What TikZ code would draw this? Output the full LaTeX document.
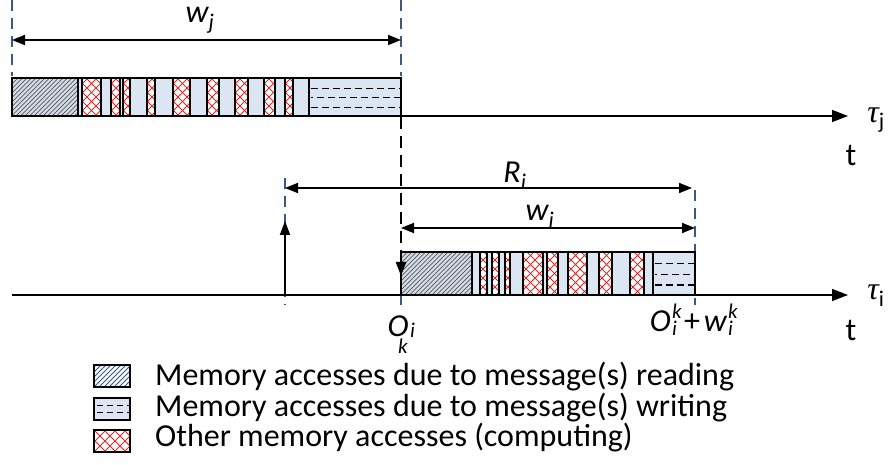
\documentclass[tikz,border=0pt]{standalone}
\usepackage{fontspec}
\setmainfont{Carlito}
\newfontfamily\greekfont{Liberation Serif}
\usetikzlibrary{arrows.meta}
\definecolor{segblue}{HTML}{DCE6F2}
\definecolor{readfill}{HTML}{D3DAE5}
\definecolor{hatchc}{HTML}{3A3A3A}
\definecolor{xred}{HTML}{E02828}
\definecolor{guide}{HTML}{3B5A80}
\definecolor{legblue}{HTML}{2F5597}
\newcommand\subsc[1]{\textsubscript{#1}}
\newcommand\segB[4]{\fill[segblue] (#1,#3) rectangle (#2,#4);\draw[segedge] (#1,#3) rectangle (#2,#4);}
\newcommand\segX[4]{\begin{scope}\clip (#1,#3) rectangle (#2,#4);
  \fill[white] (#1,#3) rectangle (#2,#4);
  \foreach \k in {-50,-41,...,40}{\draw[xline] (#1+\k,#4) -- ++(50,-50); \draw[xline] (#1+\k,#3) -- ++(50,50);}
  \end{scope}\draw[segedge] (#1,#3) rectangle (#2,#4);}
\newcommand\segR[4]{\begin{scope}\clip (#1,#3) rectangle (#2,#4);
  \fill[readfill] (#1,#3) rectangle (#2,#4);
  \foreach \k in {-50,-45.5,...,100}{\draw[hline] (#1+\k,#4) -- ++(50,-50);}
  \end{scope}\draw[segedge] (#1,#3) rectangle (#2,#4);}
\newcommand\segW[4]{\fill[segblue] (#1,#3) rectangle (#2,#4);
  \begin{scope}\clip (#1,#3) rectangle (#2,#4);
  \draw[wline] (#1+2,{#3+0.27*(#4-#3)}) -- (#2,{#3+0.27*(#4-#3)});
  \draw[wline,dash phase=5pt] (#1+2,{#3+0.52*(#4-#3)}) -- (#2,{#3+0.52*(#4-#3)});
  \draw[wline] (#1+2,{#3+0.77*(#4-#3)}) -- (#2,{#3+0.77*(#4-#3)});
  \end{scope}\draw[segedge] (#1,#3) rectangle (#2,#4);}
\begin{document}
\begin{tikzpicture}[x=1pt,y=-1pt,
  segedge/.style={black,line width=1.3pt},
  xline/.style={xred,line width=0.9pt},
  hline/.style={hatchc,line width=0.7pt},
  wline/.style={black,line width=1.4pt,dash pattern=on 7pt off 4pt},
  baredge/.style={black,line width=2.6pt},
  axis/.style={black,line width=1.5pt,-{Triangle[length=16pt,width=12pt]}},
  dim/.style={black,line width=1.8pt,{Triangle[length=13pt,width=10pt]}-{Triangle[length=13pt,width=10pt]}},
  guideline/.style={guide,line width=1.3pt,dash pattern=on 11pt off 7pt},
  lbl/.style={inner sep=0pt,font=\fontsize{32}{36}\selectfont},
  tight/.style={text height=20pt,text depth=0pt},
  scr/.style={inner sep=0pt,text height=10pt,text depth=0pt,font=\fontsize{21}{22}\selectfont\itshape},
  legtext/.style={inner sep=0pt,anchor=west,font=\fontsize{32}{36}\selectfont}]
\useasboundingbox (0,0) rectangle (892,465);
% coordinates
\coordinate (jL) at (12,116);
\coordinate (jAx) at (848,116);
\coordinate (iL) at (12,295);
\coordinate (iAx) at (848,295);
\coordinate (rel) at (285,295);
% guide lines
\coordinate (gj1t) at (12,0); \coordinate (gj1b) at (12,76);
\coordinate (gj2t) at (401,0); \coordinate (gj2b) at (401,76);
\coordinate (gRt) at (285,178); \coordinate (gRb) at (285,305);
\coordinate (gEt) at (695,190); \coordinate (gEb) at (695,305);
\coordinate (gSt) at (401,295); \coordinate (gSb) at (401,305);
\draw[guideline] (gj1t) -- (gj1b);
\draw[guideline] (gj2t) -- (gj2b);
\draw[guideline] (gRt) -- (gRb);
\draw[guideline] (gEt) -- (gEb);
\draw[guide,line width=1.3pt] (gSt) -- (gSb);
% axes
\draw[axis] (jL) -- (jAx);
\draw[axis] (iL) -- (iAx);
% top bar
\foreach \a/\b/\t in {12/78/R,78/82/B,82/101/X,101/111/B,111/120/X,120/123/B,123/130/X,130/147/B,147/155/X,155/173/B,173/190/X,190/207/B,207/219/X,219/235/B,235/248/X,248/264/B,264/275/X,275/285/B,285/293/X,293/309/B,309/401/W}{\csname seg\t\endcsname{\a}{\b}{78}{116}}
\draw[baredge] (12,78) rectangle (401,116);
% bottom bar
\foreach \a/\b/\t in {401/472/R,472/480/B,480/487/X,487/492/B,492/499/X,499/505/B,505/510/X,510/523/B,523/543/X,543/547/B,547/558/X,558/568/B,568/587/X,587/599/B,599/612/X,612/630/B,630/644/X,644/653/B,653/695/W}{\csname seg\t\endcsname{\a}{\b}{252}{295}}
\draw[baredge] (401,252) rectangle (695,295);
% dependency dashed arrow
\coordinate (depTop) at (401,117);
\coordinate (depBot) at (401,276);
\draw[black,line width=2.2pt,dash pattern=on 12pt off 7pt,-{Triangle[length=14pt,width=10pt]}] (depTop) -- (depBot);
% release arrow
\coordinate (relTip) at (285,221);
\draw[black,line width=1.8pt,-{Triangle[length=14pt,width=10pt]}] (rel) -- (relTip);
% dimension arrows
\coordinate (wjA) at (12,40); \coordinate (wjB) at (401,40);
\draw[dim] (wjA) -- (wjB);
\coordinate (RA) at (285,188); \coordinate (RB) at (692,188);
\draw[dim] (RA) -- (RB);
\coordinate (wiA) at (401,228); \coordinate (wiB) at (695,228);
\draw[dim] (wiA) -- (wiB);
% labels
\node[lbl] (lwj) at (200,20) {\itshape w\subsc{j}};
\node[lbl] (lRi) at (515,176) {\itshape R\subsc{i}};
\node[lbl] (lwi) at (540,216) {\itshape w\subsc{i}};
\node[lbl] (ltj) at (876,120) {{\greekfont\itshape τ}\subsc{j}};
\node[lbl] (lti) at (876,296) {{\greekfont\itshape τ}\subsc{i}};
\node[lbl] (ltj2) at (851,156) {t};
\node[lbl] (lti2) at (851,330) {t};
\node[lbl,tight,anchor=south] (lO) at (398,337) {\itshape O};
\node[scr,anchor=south west] (lOi) at (410,338) {i};
\node[scr,anchor=north] (lOk) at (403,343) {k};
\node[lbl,tight,anchor=south east] (lO2) at (671,332) {\itshape O};
\node[scr,anchor=south west] (lOk2) at (672,319) {k};
\node[scr,anchor=north west] (lOi2) at (672,325) {i};
\node[lbl] (lplus) at (692,323) {+};
\node[lbl,tight,anchor=south east] (lw2) at (727,332) {\itshape w};
\node[scr,anchor=south west] (lwk2) at (728,319) {k};
\node[scr,anchor=north west] (lwi2) at (728,325) {i};
% legend
\node[draw=black,line width=1.6pt,minimum width=36pt,minimum height=22pt,inner sep=0pt,
  path picture={\foreach \k in {-30,-25,...,40}{\draw[legblue,line width=0.8pt] ([xshift=\k pt]path picture bounding box.south west) -- ++(30,-30);}}] (leg1) at (112,376) {};
\node[draw=black,fill=segblue,line width=1.6pt,minimum width=36pt,minimum height=22pt,inner sep=0pt,
  path picture={\draw[black,line width=1pt,dash pattern=on 6pt off 4pt] ([xshift=3pt,yshift=-7pt]path picture bounding box.north west) -- ++(34,0); \draw[black,line width=1pt,dash pattern=on 6pt off 4pt] ([xshift=3pt,yshift=-14pt]path picture bounding box.north west) -- ++(34,0);}] (leg2) at (112,409) {};
\node[draw=black,fill=white,line width=1.6pt,minimum width=36pt,minimum height=22pt,inner sep=0pt,
  path picture={\foreach \k in {-30,-20,...,40}{\draw[xred,line width=0.8pt] ([xshift=\k pt]path picture bounding box.south west) -- ++(30,-30);\draw[xred,line width=0.8pt] ([xshift=\k pt]path picture bounding box.north west) -- ++(30,30);}}] (leg3) at (112,441) {};
\node[legtext] (t1) at (155,377) {Memory accesses due to message(s) reading};
\node[legtext] (t2) at (155,408) {Memory accesses due to message(s) writing};
\node[legtext] (t3) at (155,438) {Other memory accesses (computing)};
\end{tikzpicture}
\end{document}
